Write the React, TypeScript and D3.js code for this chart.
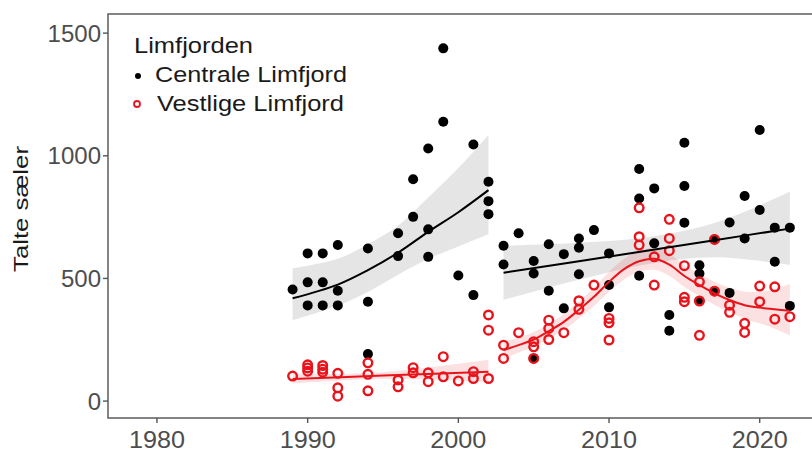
import * as d3 from "d3";

// counts per year
const centralYears = [1989, 1990, 1991, 1992, 1994, 1996, 1997, 1998, 1999, 2000, 2001, 2002,
  2003, 2004, 2005, 2006, 2007, 2008, 2009, 2010, 2012, 2013, 2014, 2015, 2016, 2017, 2018, 2019, 2020, 2021, 2022];
const centralCounts = [
  [455], [602, 484, 390], [602, 484, 390], [636, 450, 390], [622, 405, 192], [684, 591], [904, 751],
  [1030, 700, 588], [1438, 1139], [512], [1046, 432], [894, 815, 762],
  [633, 557], [684], [571, 520, 174], [639, 450], [599, 378], [663, 625, 517], [697], [602, 473, 382],
  [946, 826, 511], [867, 643], [351, 287], [1053, 877, 727], [554, 520, 408], [659, 448], [728, 441],
  [836, 663], [1105, 779], [707, 568], [707, 388],
];

const westYears = [1989, 1990, 1991, 1992, 1994, 1996, 1997, 1998, 1999, 2000, 2001, 2002,
  2003, 2004, 2005, 2006, 2007, 2008, 2009, 2010, 2012, 2013, 2014, 2015, 2016, 2017, 2018, 2019, 2020, 2021, 2022];
const westCounts = [
  [102], [148, 135, 122], [145, 130, 118], [113, 54, 20], [156, 109, 42], [86, 58], [136, 115],
  [115, 79], [181, 99], [82], [120, 92], [351, 289, 92],
  [228, 174], [279], [242, 221, 174], [330, 296, 251], [279], [409, 374], [473], [337, 319, 249],
  [788, 670, 636], [588, 473], [741, 663, 613], [552, 423, 405], [486, 408, 268], [659, 448], [391, 362],
  [317, 280], [469, 405], [466, 334], [344],
];

// fitted curves and confidence bands as drawn
const centralFitAYears = [1989, 1992, 1994, 1996, 1998, 2000, 2002];
const centralFitA = [419, 475, 534, 605, 690, 770, 860];
const centralLoA = [330, 390, 445, 515, 580, 630, 680];
const centralHiA = [541, 580, 640, 715, 830, 950, 1085];

const centralFitBYears = [2003, 2008, 2012.5, 2017, 2022];
const centralFitB = [523, 570, 613, 656, 703];
const centralLoB = [413, 495, 558, 586, 555];
const centralHiB = [633, 645, 668, 726, 853];

const westFitAYears = [1989, 1995, 2002];
const westFitA = [90, 104, 120];
const westLoA = [72, 90, 78];
const westHiA = [110, 118, 168];

const westFitBYears = [2003, 2004, 2005, 2006, 2007, 2008, 2009, 2010, 2011, 2012, 2013,
  2014, 2015, 2016, 2017, 2018, 2019, 2020, 2021, 2022];
const westFitB = [208, 228, 251, 285, 323, 372, 425, 486, 538, 570, 580, 556, 510, 473, 439, 412, 391, 381, 374, 368];
const westLoB = [173, 198, 221, 255, 291, 337, 388, 446, 496, 527, 535, 511, 465, 427, 392, 362, 336, 317, 295, 268];
const westHiB = [243, 258, 281, 315, 355, 407, 462, 526, 580, 613, 625, 601, 555, 519, 486, 462, 446, 446, 455, 478];

const xTicks = [1980, 1990, 2000, 2010, 2020];
const yTicks = [0, 500, 1000, 1500];

const RED = "#e8141c";

const flatten = (years: number[], counts: number[][]) =>
  years.flatMap((yr, i) => counts[i].map((v) => ({ yr, v })));

export default function App() {
  const width = 812;
  const height = 454;
  const left = 108, top = 14, bottom = 418;

  const x = d3.scaleLinear().domain([1976.75, 2023.47]).range([left, width]);
  const y = d3.scaleLinear().domain([-69, 1578]).range([bottom, top]);

  const line = d3.line<[number, number]>().x((d) => x(d[0])).y((d) => y(d[1])).curve(d3.curveCatmullRom);
  const area = d3.area<[number, number, number]>()
    .x((d) => x(d[0])).y0((d) => y(d[1])).y1((d) => y(d[2])).curve(d3.curveCatmullRom);

  const fitPath = (yrs: number[], f: number[]) => line(yrs.map((yr, i) => [yr, f[i]]))!;
  const bandPath = (yrs: number[], lo: number[], hi: number[]) =>
    area(yrs.map((yr, i) => [yr, lo[i], hi[i]]))!;

  const central = flatten(centralYears, centralCounts);
  const west = flatten(westYears, westCounts);

  const font = "'Liberation Sans', Arial, sans-serif";

  return (
    <div style={{ position: "absolute", left: 0, top: 0 }}>
      <svg width={width} height={height} style={{ display: "block", background: "#fff" }}>
        {/* bands */}
        <path d={bandPath(centralFitAYears, centralLoA, centralHiA)} fill="#999" fillOpacity={0.25} />
        <path d={bandPath(centralFitBYears, centralLoB, centralHiB)} fill="#999" fillOpacity={0.25} />
        <path d={bandPath(westFitAYears, westLoA, westHiA)} fill={RED} fillOpacity={0.13} />
        <path d={bandPath(westFitBYears, westLoB, westHiB)} fill={RED} fillOpacity={0.13} />

        {/* points */}
        {central.map((d, i) => (
          <circle key={`c-${i}`} cx={x(d.yr)} cy={y(d.v)} r={5} fill="#000" />
        ))}
        {west.map((d, i) => (
          <circle key={`w-${i}`} cx={x(d.yr)} cy={y(d.v)} r={4.3} fill="none" stroke={RED} strokeWidth={2.4} />
        ))}

        {/* fits */}
        <path d={fitPath(centralFitAYears, centralFitA)} fill="none" stroke="#000" strokeWidth={2} />
        <path d={fitPath(centralFitBYears, centralFitB)} fill="none" stroke="#000" strokeWidth={2} />
        <path d={fitPath(westFitAYears, westFitA)} fill="none" stroke={RED} strokeWidth={2} />
        <path d={fitPath(westFitBYears, westFitB)} fill="none" stroke={RED} strokeWidth={2} />

        {/* panel border */}
        <rect x={left} y={top} width={width - left + 10} height={bottom - top} fill="none" stroke="#666" strokeWidth={1.6} />

        {/* y axis */}
        {yTicks.map((t) => (
          <g key={`yt-${t}`}>
            <line x1={left - 5} x2={left} y1={y(t)} y2={y(t)} stroke="#555" strokeWidth={1.4} />
            <text x={left - 7} y={y(t)} dy="0.36em" textAnchor="end" fontFamily={font} fontSize={24} fill="#4d4d4d">
              {t}
            </text>
          </g>
        ))}

        {/* x axis */}
        {xTicks.map((t) => (
          <g key={`xt-${t}`}>
            <line x1={x(t)} x2={x(t)} y1={bottom} y2={bottom + 5} stroke="#555" strokeWidth={1.4} />
            <text x={x(t)} y={448} textAnchor="middle" fontFamily={font} fontSize={23} textLength={56}
              lengthAdjust="spacingAndGlyphs" fill="#4d4d4d">
              {t}
            </text>
          </g>
        ))}

        <text transform={`translate(28, 209) rotate(-90)`} textAnchor="middle"
          fontFamily={font} fontSize={21} textLength={126} lengthAdjust="spacingAndGlyphs" fill="#1a1a1a">
          Talte sæler
        </text>

        {/* legend */}
        <text x={134} y={53} fontFamily={font} fontSize={22} textLength={119} lengthAdjust="spacingAndGlyphs" fill="#1a1a1a">Limfjorden</text>
        <circle cx={138} cy={76} r={3} fill="#000" />
        <text x={155} y={82} fontFamily={font} fontSize={22} textLength={192} lengthAdjust="spacingAndGlyphs" fill="#1a1a1a">Centrale Limfjord</text>
        <circle cx={137} cy={104} r={3} fill="none" stroke={RED} strokeWidth={1.8} />
        <text x={157} y={111} fontFamily={font} fontSize={22} textLength={187} lengthAdjust="spacingAndGlyphs" fill="#1a1a1a">Vestlige Limfjord</text>
      </svg>
    </div>
  );
}
